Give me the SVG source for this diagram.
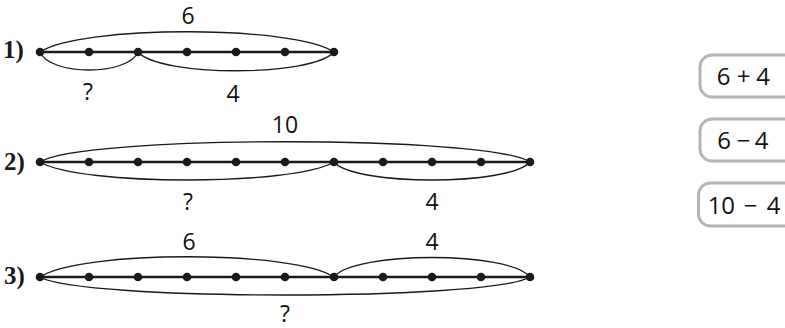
<svg xmlns="http://www.w3.org/2000/svg" width="785" height="328" viewBox="0 0 785 328">
<style>
.seg{stroke:#1a1a1a;stroke-width:2.6;fill:none}
.arc{stroke:#1a1a1a;stroke-width:1.3;fill:none}
.dot{fill:#1a1a1a}
.lbl{font-family:"Open Sans","DejaVu Sans",sans-serif;font-size:23px;fill:#111;text-anchor:middle}
.blbl{font-family:"Open Sans","DejaVu Sans",sans-serif;font-size:24px;fill:#111;text-anchor:middle}
.num{font-family:"Liberation Serif","Times New Roman",serif;font-size:25px;font-weight:bold;fill:#1a1a1a}
.box{fill:#fff;stroke:#b5b5b5;stroke-width:3}
</style>
<defs>
<circle id="d" r="4.3" class="dot"/>
</defs>
<rect width="785" height="328" fill="#fff"/>

<g id="row1">
<text class="num" x="3" y="58">1)</text>
<line class="seg" x1="40" y1="52" x2="334" y2="52"/>
<g id="row1-dots">
<use href="#d" x="40" y="52"/><use href="#d" x="89" y="52"/><use href="#d" x="138" y="52"/><use href="#d" x="187" y="52"/><use href="#d" x="236" y="52"/><use href="#d" x="285" y="52"/><use href="#d" x="334" y="52"/>
</g>
<text class="lbl" x="188" y="24">6</text>
<text class="lbl" x="88" y="100">?</text>
<text class="lbl" x="233" y="102">4</text>
</g>

<g id="row2">
<text class="num" x="4" y="170">2)</text>
<line class="seg" x1="40" y1="162" x2="530" y2="162"/>
<g id="row2-dots">
<use href="#d" x="40" y="162"/><use href="#d" x="89" y="162"/><use href="#d" x="138" y="162"/><use href="#d" x="187" y="162"/><use href="#d" x="236" y="162"/><use href="#d" x="285" y="162"/><use href="#d" x="334" y="162"/><use href="#d" x="383" y="162"/><use href="#d" x="432" y="162"/><use href="#d" x="481" y="162"/><use href="#d" x="530" y="162"/>
</g>
<text class="lbl" x="285" y="133">10</text>
<text class="lbl" x="188" y="210">?</text>
<text class="lbl" x="432" y="210">4</text>
</g>

<g id="row3">
<text class="num" x="4" y="284">3)</text>
<line class="seg" x1="40" y1="277" x2="530" y2="277"/>
<g id="row3-dots">
<use href="#d" x="40" y="277"/><use href="#d" x="89" y="277"/><use href="#d" x="138" y="277"/><use href="#d" x="187" y="277"/><use href="#d" x="236" y="277"/><use href="#d" x="285" y="277"/><use href="#d" x="334" y="277"/><use href="#d" x="383" y="277"/><use href="#d" x="432" y="277"/><use href="#d" x="481" y="277"/><use href="#d" x="530" y="277"/>
</g>
<text class="lbl" x="189" y="250">6</text>
<text class="lbl" x="432" y="250">4</text>
<text class="lbl" x="285" y="322">?</text>
</g>

<g id="connectors">
<path class="arc" d="M40,52 C80,25 294,25 334,52"/>
<path class="arc" d="M40,52 C50,76 128,76 138,52"/>
<path class="arc" d="M138,52 C160,77 312,77 334,52"/>
<path class="arc" d="M40,162 C80,135 490,135 530,162"/>
<path class="arc" d="M40,162 C80,186 294,186 334,162"/>
<path class="arc" d="M334,162 C354,186 510,186 530,162"/>
<path class="arc" d="M40,277 C80,250 294,250 334,277"/>
<path class="arc" d="M334,277 C354,251 510,251 530,277"/>
<path class="arc" d="M40,277 C80,301 490,301 530,277"/>
</g>

<g id="box1">
<rect class="box" x="700" y="55" width="100" height="42" rx="12"/>
<text class="blbl" x="723.5 743.5 763" y="85">6+4</text>
</g>
<g id="box2">
<rect class="box" x="700" y="119" width="100" height="42" rx="12"/>
<text class="blbl" x="724 743.5 761.5" y="149">6−4</text>
</g>
<g id="box3">
<rect class="box" x="698.5" y="183" width="100" height="43" rx="12"/>
<text class="blbl" x="714.5 728 750.5 773.5" y="214">10−4</text>
</g>
</svg>
